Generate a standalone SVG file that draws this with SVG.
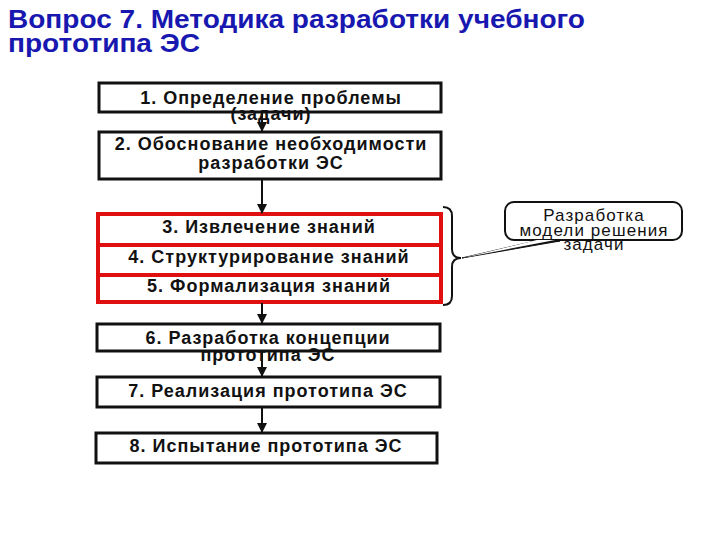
<svg xmlns="http://www.w3.org/2000/svg" width="720" height="540" viewBox="0 0 720 540">
<defs>
<style>
.title{font-family:"Liberation Sans",Arial,sans-serif;font-weight:bold;font-size:25px;fill:#1818b0}
.t{font-family:"Liberation Sans",Arial,sans-serif;font-weight:bold;font-size:18px;letter-spacing:1px;fill:#111;text-anchor:middle}
.ct{font-family:"Liberation Sans",Arial,sans-serif;font-size:17px;letter-spacing:1.1px;fill:#111;text-anchor:middle}
.box{fill:#fff;stroke:#111;stroke-width:3}
.red{fill:#fff;stroke:#e01010;stroke-width:4}
.conn{stroke:#111;stroke-width:2;fill:none}
</style>
<marker id="ah" viewBox="0 0 10 10" refX="9" refY="5" markerWidth="5" markerHeight="5" orient="auto" markerUnits="strokeWidth">
<path d="M0,0 L10,5 L0,10 z" fill="#111"/>
</marker>
</defs>
<rect width="720" height="540" fill="#fff"/>
<g id="title">
<text class="title" x="8" y="28" textLength="577" lengthAdjust="spacingAndGlyphs">Вопрос 7. Методика разработки учебного</text>
<text class="title" x="8" y="52" textLength="192" lengthAdjust="spacingAndGlyphs">прототипа ЭС</text>
</g>
<g id="n1"><rect class="box" x="99" y="83" width="342" height="29"/><text class="t" x="271" y="104">1. Определение проблемы</text><text class="t" x="271" y="120">(задачи)</text></g>
<g id="n2"><rect class="box" x="99" y="132" width="342" height="47"/><text class="t" x="271" y="150">2. Обоснование необходимости</text><text class="t" x="271" y="169">разработки ЭС</text></g>
<g id="n3"><rect class="red" x="98" y="214" width="343" height="31"/><text class="t" x="269" y="233">3. Извлечение знаний</text></g>
<g id="n4"><rect class="red" x="98" y="245" width="343" height="30"/><text class="t" x="269" y="263">4. Структурирование знаний</text></g>
<g id="n5"><rect class="red" x="98" y="275" width="343" height="27"/><text class="t" x="269" y="292">5. Формализация знаний</text></g>
<g id="n6"><rect class="box" x="97" y="324" width="343" height="27"/><text class="t" x="268" y="344">6. Разработка концепции</text><text class="t" x="268" y="361">прототипа ЭС</text></g>
<g id="n7"><rect class="box" x="97" y="377" width="343" height="30"/><text class="t" x="268" y="397">7. Реализация прототипа ЭС</text></g>
<g id="n8"><rect class="box" x="96" y="433" width="341" height="30"/><text class="t" x="266" y="452">8. Испытание прототипа ЭС</text></g>
<g id="brace"><path d="M443,207 Q452,207 452,216 L452,249 Q452,258 461,258 Q452,258 452,267 L452,296 Q452,305 443,305" fill="none" stroke="#111" stroke-width="2"/></g>
<g id="callout">
<path d="M462,258 L535,241 L560,241 Z" fill="#111" stroke="#111" stroke-width="1"/>
<rect x="505" y="202" width="177" height="38" rx="9" fill="#fff" stroke="#111" stroke-width="2"/>
<path d="M462,258 L537,240 L555,240 Z" fill="#fff"/>
<text class="ct" x="594" y="221">Разработка</text>
<text class="ct" x="594" y="236">модели решения</text>
<text class="ct" x="594" y="250">задачи</text>
</g>
<g id="connectors">
<line class="conn" x1="262" y1="112" x2="262" y2="131" marker-end="url(#ah)"/>
<line class="conn" x1="262" y1="180" x2="262" y2="213" marker-end="url(#ah)"/>
<line class="conn" x1="262" y1="303" x2="262" y2="323" marker-end="url(#ah)"/>
<line class="conn" x1="262" y1="351" x2="262" y2="376" marker-end="url(#ah)"/>
<line class="conn" x1="262" y1="408" x2="262" y2="432" marker-end="url(#ah)"/>
</g>
</svg>
